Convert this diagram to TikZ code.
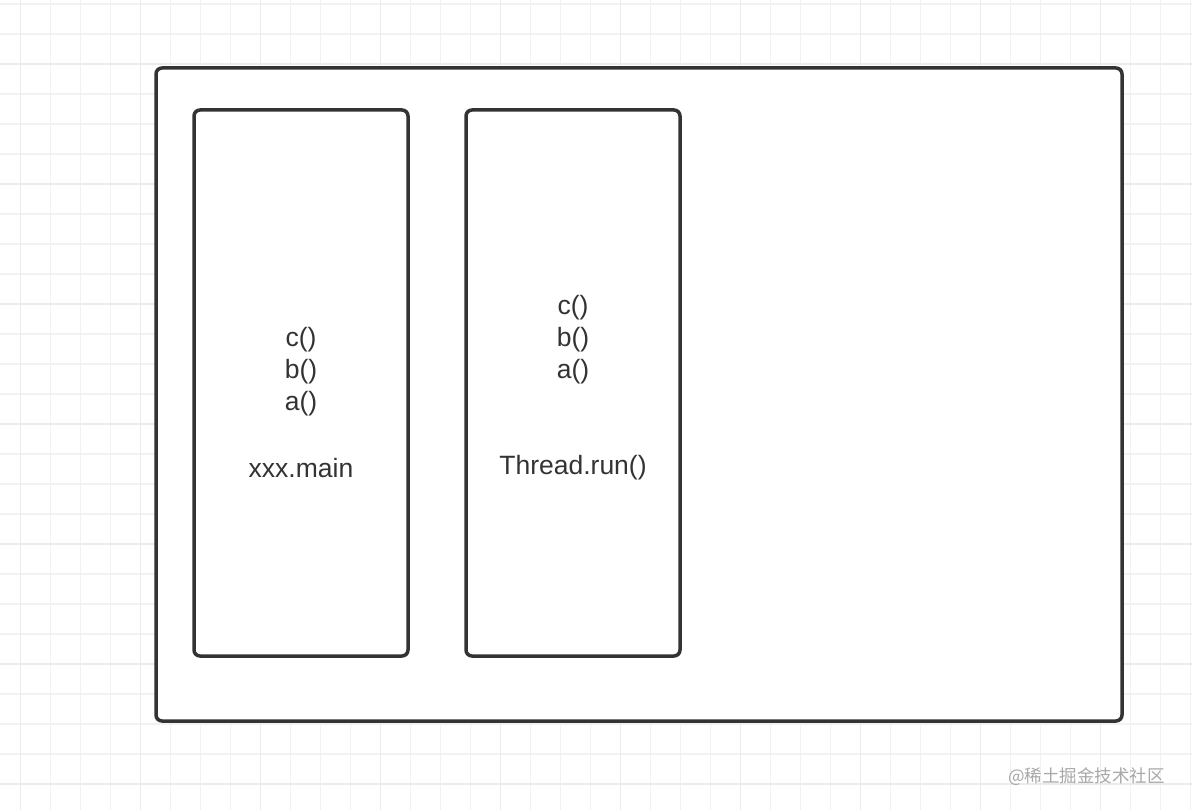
\documentclass[tikz,border=0pt]{standalone}
\usepackage{fontspec}
\setmainfont{Liberation Sans}
\newfontfamily\cjk{Noto Sans CJK SC}
\definecolor{gridminor}{HTML}{F2F2F2}
\definecolor{gridmajor}{HTML}{EBEBEB}
\definecolor{edge}{HTML}{333333}
\definecolor{txt}{HTML}{333333}
\definecolor{wm}{HTML}{A8A8A8}
\begin{document}
\begin{tikzpicture}[x=1pt,y=-1pt,
  frame/.style={draw=edge,line width=3.5pt,rounded corners=6pt,fill=white},
  label/.style={text=txt,font=\fontsize{26.5}{32}\selectfont,align=center,inner sep=0pt}]
\useasboundingbox (0,0) rectangle (1192,810);
\fill[white] (0,0) rectangle (1192,810);
% grid
\foreach \i in {0,...,39}{
  \draw[gridminor,line width=1.5pt] ({20.7+30*\i},0) -- ({20.7+30*\i},810);
}
\foreach \j in {0,...,27}{
  \draw[gridminor,line width=1.5pt] (0,{4+30*\j}) -- (1192,{4+30*\j});
}
\foreach \i in {0,...,9}{
  \draw[gridmajor,line width=1.5pt] ({20.7+120*\i},0) -- ({20.7+120*\i},810);
}
\foreach \j in {0,...,6}{
  \draw[gridmajor,line width=1.5pt] (0,{64+120*\j}) -- (1192,{64+120*\j});
}
% boxes
\draw[frame] (156,68) rectangle (1122,721);
\draw[frame] (194,110) rectangle (408,656);
\draw[frame] (466,110) rectangle (680,656);
% texts
\node[label] (l1) at (301,372) {c()\\b()\\a()};
\node[label] (l2) at (301,468) {xxx.main};
\node[label] (r1) at (573,340) {c()\\b()\\a()};
\node[label] (r2) at (573,468) {Thread.run()};
\node[text=wm,font=\cjk\fontsize{17.5}{20}\selectfont,inner sep=0pt,anchor=west] (wm) at (1008,777) {@稀土掘金技术社区};
\end{tikzpicture}
\end{document}
